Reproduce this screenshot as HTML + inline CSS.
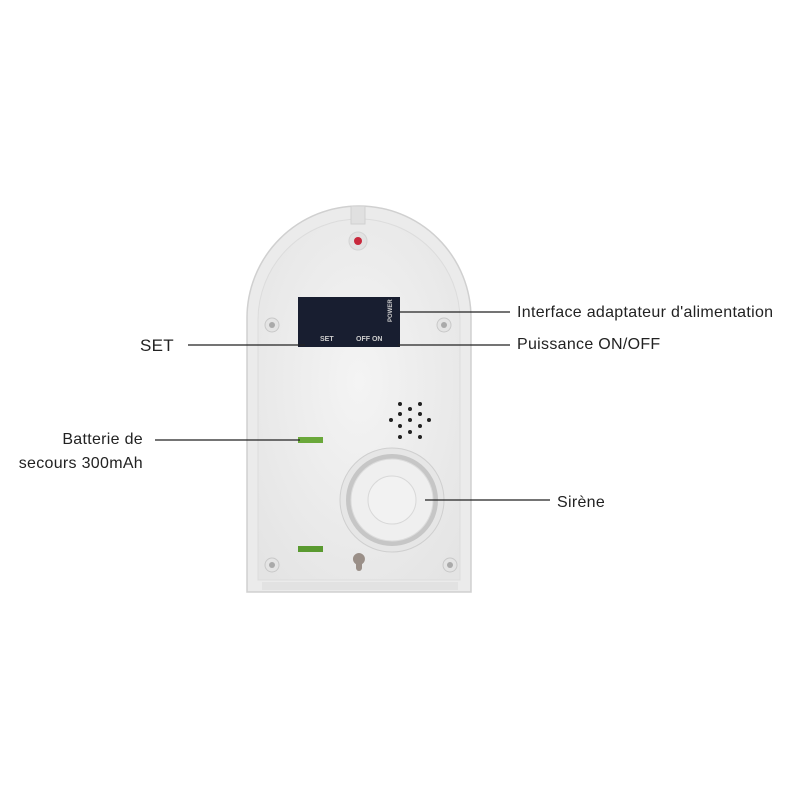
<!DOCTYPE html>
<html><head><meta charset="utf-8"><style>
html,body{margin:0;padding:0;background:#fff;width:800px;height:800px;overflow:hidden}
svg text{font-family:"Liberation Sans",sans-serif;font-size:16px;fill:#222;letter-spacing:0.3px}
</style></head><body>
<svg width="800" height="800" viewBox="0 0 800 800" xmlns="http://www.w3.org/2000/svg">
<defs>
<radialGradient id="bg" cx="0.5" cy="0.45" r="0.7">
<stop offset="0" stop-color="#f4f4f4"/><stop offset="1" stop-color="#e4e4e4"/></radialGradient>
</defs>
<path d="M247,318 A112,112 0 0 1 471,318 L471,592 L247,592 Z" fill="#ebebeb" stroke="#d0d0d0" stroke-width="1.5"/>
<path d="M258,320 A101,101 0 0 1 460,320 L460,580 L258,580 Z" fill="url(#bg)" stroke="#dcdcdc"/>
<rect x="262" y="582" width="196" height="8" fill="#e2e2e2"/>
<rect x="351" y="206" width="14" height="18" fill="#e0e0e0" stroke="#d0d0d0"/>
<circle cx="358" cy="241" r="9" fill="#e2e2e2" stroke="#d4d4d4"/>
<circle cx="358" cy="241" r="4" fill="#c8283c"/>
<rect x="298" y="297" width="102" height="50" fill="#181e30"/>
<text x="320" y="341" style="font-size:7px;font-weight:bold;fill:#ccc;letter-spacing:0">SET</text>
<text x="356" y="341" style="font-size:7px;font-weight:bold;fill:#ccc;letter-spacing:0">OFF ON</text>
<text x="0" y="0" transform="translate(392,322) rotate(-90)" style="font-size:6px;font-weight:bold;fill:#ccc;letter-spacing:0">POWER</text>
<g fill="#e4e4e4" stroke="#c8c8c8"><circle cx="272" cy="325" r="7"/><circle cx="444" cy="325" r="7"/><circle cx="272" cy="565" r="7"/><circle cx="450" cy="565" r="7"/></g>
<g fill="#aaa"><circle cx="272" cy="325" r="3"/><circle cx="444" cy="325" r="3"/><circle cx="272" cy="565" r="3"/><circle cx="450" cy="565" r="3"/></g>
<path d="M359,553 a6,6 0 1 1 -0.1,0 Z" fill="#9a8f88"/>
<rect x="356" y="558" width="6" height="13" rx="3" fill="#9a8f88"/>
<rect x="298" y="437" width="25" height="6" fill="#6aa83a"/>
<rect x="298" y="546" width="25" height="6" fill="#5a9a30"/>
<g fill="#222">
<circle cx="400" cy="404" r="2"/><circle cx="420" cy="404" r="2"/><circle cx="410" cy="409" r="2"/>
<circle cx="400" cy="414" r="2"/><circle cx="420" cy="414" r="2"/><circle cx="391" cy="420" r="2"/>
<circle cx="410" cy="420" r="2"/><circle cx="429" cy="420" r="2"/><circle cx="400" cy="426" r="2"/>
<circle cx="420" cy="426" r="2"/><circle cx="410" cy="432" r="2"/><circle cx="400" cy="437" r="2"/><circle cx="420" cy="437" r="2"/>
</g>
<circle cx="392" cy="500" r="52" fill="#e6e6e6" stroke="#cfcfcf"/>
<circle cx="392" cy="500" r="46" fill="#c6c6c6"/>
<circle cx="392" cy="500" r="41" fill="#efefef" stroke="#dcdcdc"/>
<circle cx="392" cy="500" r="24" fill="#f2f2f2" stroke="#d8d8d8"/>
<g stroke="#222" stroke-width="1.2">
<line x1="400" y1="312" x2="510" y2="312"/>
<line x1="398" y1="345" x2="510" y2="345"/>
<line x1="188" y1="345" x2="305" y2="345"/>
<line x1="155" y1="440" x2="300" y2="440"/>
<line x1="425" y1="500" x2="550" y2="500"/>
</g>
<text x="517" y="317">Interface adaptateur d'alimentation</text>
<text x="517" y="349">Puissance ON/OFF</text>
<text x="140" y="351" style="font-size:17px">SET</text>
<text x="143" y="444" text-anchor="end">Batterie de</text>
<text x="143" y="468" text-anchor="end">secours 300mAh</text>
<text x="557" y="507">Sirène</text>
</svg>
</body></html>
